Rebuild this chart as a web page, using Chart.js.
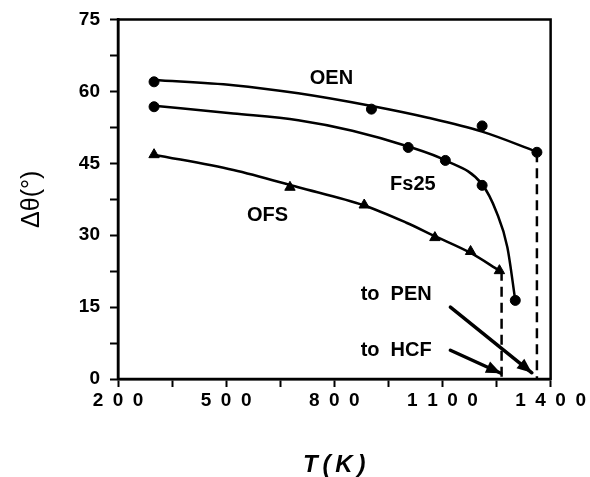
<!DOCTYPE html>
<html>
<head>
<meta charset="utf-8">
<script src="https://cdn.jsdelivr.net/npm/chart.js@4/dist/chart.umd.min.js"></script>
<style>
  html, body { margin: 0; padding: 0; background: #fff; }
  #wrap { width: 590px; height: 477px; }
</style>
</head>
<body>
<div id="wrap"><canvas id="chart" width="590" height="477"></canvas></div>
<script>
// measured points, T in K, delta theta in degrees
const OEN_T = [300, 903, 1210, 1362];
const OEN_D = [62.0, 56.3, 52.8, 47.3];
const FS25_T = [300, 1005, 1108, 1210, 1302];
const FS25_D = [56.8, 48.3, 45.6, 40.4, 16.4];
const OFS_T = [300, 677, 883, 1079, 1178, 1258];
const OFS_D = [46.8, 40.0, 36.3, 29.5, 26.6, 22.6];

// hand drawn fit curves
const OEN_FIT_T = [300, 520, 700, 900, 1060, 1210, 1362];
const OEN_FIT_D = [62.4, 61.3, 59.6, 57.0, 54.5, 51.6, 47.4];
const FS25_FIT_T = [300, 520, 700, 850, 1005, 1108, 1210, 1250, 1280, 1302];
const FS25_FIT_D = [57.0, 55.4, 54.0, 51.8, 48.5, 45.6, 40.6, 34.8, 27.5, 16.4];
const OFS_FIT_T = [300, 520, 700, 883, 1000, 1079, 1178, 1258];
const OFS_FIT_D = [46.8, 43.6, 40.0, 36.2, 32.6, 29.8, 26.3, 22.6];

// dashed drops to the axis
const DROP_HCF = [1264, 22.6];
const DROP_PEN = [1362, 47.3];

const X_TICKS = [200, 350, 500, 650, 800, 950, 1100, 1250, 1400];
const X_LABELED = [200, 500, 800, 1100, 1400];
const Y_TICKS = [0, 7.5, 15, 22.5, 30, 37.5, 45, 52.5, 60, 67.5, 75];
const Y_LABELED = [0, 15, 30, 45, 60, 75];

const LABELS = [
  { text: "OEN", x: 792, y: 62.6, align: "center" },
  { text: "Fs25", x: 1018, y: 40.6, align: "center" },
  { text: "OFS", x: 615, y: 34.2, align: "center" },
  { text: "to  PEN", x: 873, y: 17.6, align: "left" },
  { text: "to  HCF", x: 873, y: 6.0, align: "left" }
];
const ARROWS = [
  { from: [1122, 15.0], to: [1348, 1.3] },
  { from: [1122, 6.0], to: [1262, 1.2] }
];

const pts = (xs, ys) => xs.map((v, i) => ({ x: v, y: ys[i] }));
const FONT = '"Liberation Sans", Arial, sans-serif';

const annotate = {
  id: "annotate",
  afterDatasetsDraw(chart) {
    const { ctx, chartArea: a, scales: { x, y } } = chart;
    ctx.save();
    ctx.strokeStyle = "#000";
    ctx.lineWidth = 2.5;
    ctx.strokeRect(a.left, a.top, a.right - a.left, a.bottom - a.top);

    ctx.fillStyle = "#000";
    ctx.font = "bold 20px " + FONT;
    ctx.textBaseline = "middle";
    LABELS.forEach(l => {
      ctx.textAlign = l.align;
      ctx.fillText(l.text, x.getPixelForValue(l.x), y.getPixelForValue(l.y));
    });

    ctx.lineWidth = 3.5;
    ctx.lineCap = "round";
    ARROWS.forEach(ar => {
      const x0 = x.getPixelForValue(ar.from[0]), y0 = y.getPixelForValue(ar.from[1]);
      const x1 = x.getPixelForValue(ar.to[0]), y1 = y.getPixelForValue(ar.to[1]);
      const ang = Math.atan2(y1 - y0, x1 - x0);
      ctx.beginPath();
      ctx.moveTo(x0, y0);
      ctx.lineTo(x1, y1);
      ctx.stroke();
      ctx.beginPath();
      ctx.moveTo(x1, y1);
      ctx.lineTo(x1 - 16 * Math.cos(ang - 0.4), y1 - 16 * Math.sin(ang - 0.4));
      ctx.lineTo(x1 - 16 * Math.cos(ang + 0.4), y1 - 16 * Math.sin(ang + 0.4));
      ctx.closePath();
      ctx.fill();
    });
    ctx.restore();
  }
};

const curve = data => ({
  data, showLine: true, borderColor: "#000", borderWidth: 2.5,
  pointRadius: 0, cubicInterpolationMode: "monotone", fill: false
});
const marks = (data, style, r) => ({
  data, showLine: false, pointStyle: style, pointRadius: r,
  backgroundColor: "#000", borderColor: "#000", borderWidth: 1
});
const drop = p => ({
  data: [{ x: p[0], y: p[1] }, { x: p[0], y: 0 }], showLine: true,
  borderColor: "#000", borderWidth: 2.5, borderDash: [10, 6], pointRadius: 0
});

new Chart(document.getElementById("chart"), {
  type: "scatter",
  data: {
    datasets: [
      curve(pts(OEN_FIT_T, OEN_FIT_D)),
      curve(pts(FS25_FIT_T, FS25_FIT_D)),
      curve(pts(OFS_FIT_T, OFS_FIT_D)),
      drop(DROP_HCF),
      drop(DROP_PEN),
      marks(pts(OEN_T, OEN_D), "circle", 5),
      marks(pts(FS25_T, FS25_D), "circle", 5),
      marks(pts(OFS_T, OFS_D), "triangle", 6)
    ]
  },
  options: {
    responsive: false,
    animation: false,
    events: [],
    layout: { padding: { left: 0, right: 38, top: 15, bottom: 0 } },
    plugins: { legend: { display: false }, tooltip: { enabled: false } },
    scales: {
      x: {
        type: "linear", min: 200, max: 1400,
        afterBuildTicks: s => { s.ticks = X_TICKS.map(v => ({ value: v })); },
        afterFit: s => { s.height = 98; },
        grid: { drawOnChartArea: false, tickLength: 8, tickWidth: 2, tickColor: "#000" },
        border: { color: "#000", width: 2.5 },
        ticks: {
          color: "#000", padding: 4, maxRotation: 0, autoSkip: false,
          font: { family: FONT, size: 19, weight: "bold", lineHeight: 1 },
          callback: v => X_LABELED.includes(v) ? String(v).split("").join("\u2002") : ""
        },
        title: {
          display: true, text: "T\u2009(\u2009K\u2009)", color: "#000",
          padding: { top: 0, bottom: 0 },
          font: { family: FONT, size: 24, weight: "bold", style: "italic", lineHeight: 1 }
        }
      },
      y: {
        type: "linear", min: 0, max: 75,
        afterBuildTicks: s => { s.ticks = Y_TICKS.map(v => ({ value: v })); },
        afterFit: s => { s.width = 118; },
        grid: { drawOnChartArea: false, tickLength: 8, tickWidth: 2, tickColor: "#000" },
        border: { color: "#000", width: 2.5 },
        ticks: {
          color: "#000", padding: 10, autoSkip: false,
          font: { family: FONT, size: 19, weight: "bold", lineHeight: 1 },
          callback: v => Y_LABELED.includes(v) ? String(v) : ""
        },
        title: {
          display: true, text: "Δθ(°)", color: "#000",
          padding: { top: 20, bottom: 0 },
          font: { family: FONT, size: 25, lineHeight: 1 }
        }
      }
    }
  },
  plugins: [annotate]
});
</script>
</body>
</html>
